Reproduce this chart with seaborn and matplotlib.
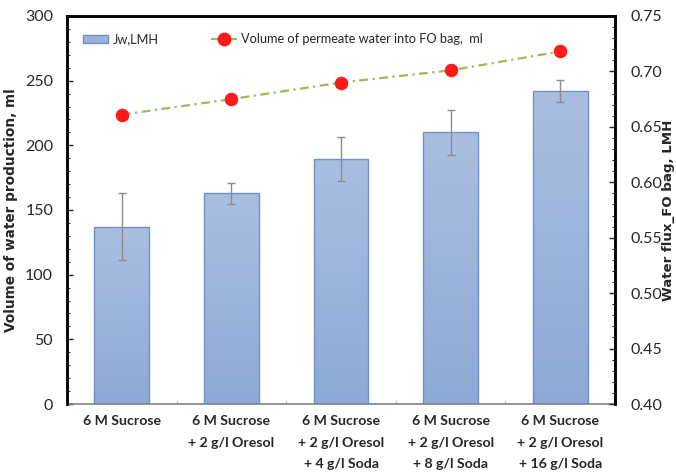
import numpy as np
import pandas as pd
import matplotlib
matplotlib.use("Agg")
import matplotlib.pyplot as plt
from matplotlib.colors import LinearSegmentedColormap
from matplotlib.ticker import MultipleLocator, FormatStrFormatter
from matplotlib.lines import Line2D
from matplotlib.patches import Patch
import seaborn as sns

# Data
categories = ["6 M Sucrose",
              "6 M Sucrose\n+ 2 g/l Oresol",
              "6 M Sucrose\n+ 2 g/l Oresol\n+ 4 g/l Soda",
              "6 M Sucrose\n+ 2 g/l Oresol\n+ 8 g/l Soda",
              "6 M Sucrose\n+ 2 g/l Oresol\n+ 16 g/l Soda"]
volume_ml = [137, 163, 189.5, 210, 242]
volume_err = [26, 8, 17, 17.5, 8.5]
flux_lmh = [0.661, 0.675, 0.690, 0.701, 0.718]

df = pd.DataFrame({"cat": categories, "vol": volume_ml, "err": volume_err, "flux": flux_lmh})

sns.set_theme(style="white")
plt.rcParams["font.family"] = ["DejaVu Sans"]
TICK_FONT = ["Lato", "DejaVu Sans"]
LINE_STYLE = (0, (4, 2, 1, 2))

fig = plt.figure(figsize=(6.76, 4.76), dpi=100)
ax = fig.add_axes([67 / 676, 1 - 404 / 476, (615 - 67) / 676, (404 - 16) / 476])

sns.barplot(data=df, x="cat", y="vol", ax=ax, width=0.5, color="#9db2da",
            edgecolor="#6f93c8", linewidth=1.0, errorbar=None, zorder=2)

# vertical gradient fill on each bar
cmap = LinearSegmentedColormap.from_list("barfill", ["#8ea9d6", "#aabee0"])
grad = np.linspace(0, 1, 256).reshape(-1, 1)
for p in ax.patches:
    x0, y0 = p.get_x(), p.get_y()
    w, h = p.get_width(), p.get_height()
    im = ax.imshow(grad, cmap=cmap, origin="lower", aspect="auto",
                   extent=[x0, x0 + w, y0, y0 + h], zorder=2.1)
    im.set_clip_path(p)
    p.set_facecolor("none")
    p.set_zorder(2.2)

ax.errorbar(np.arange(len(categories)), df["vol"], yerr=df["err"], fmt="none",
            ecolor="#8c8c8c", elinewidth=1.0, capsize=3, capthick=1.0, zorder=3)

ax.set_xlim(-0.5, len(categories) - 0.5)
ax.set_ylim(0, 300)
ax.yaxis.set_major_locator(MultipleLocator(50))
ax.yaxis.set_minor_locator(MultipleLocator(10))
ax.set_xlabel("")
ax.set_ylabel("Volume of water production, ml", fontsize=9.8, fontweight="bold")
ax.yaxis.set_label_coords(-0.089, 0.5)
ax.tick_params(axis="y", which="major", direction="in", length=4, width=1, labelsize=11.5, left=True, pad=10)
ax.tick_params(axis="y", which="minor", direction="in", length=2.5, width=0.8, left=True)
ax.set_xticks(np.arange(len(categories)))
ax.set_xticklabels(categories, fontsize=10.2, fontweight="bold", linespacing=1.95)
ax.tick_params(axis="x", which="major", length=0, pad=8)
ax.set_xticks(np.arange(len(categories) - 1) + 0.5, minor=True)
ax.tick_params(axis="x", which="minor", direction="in", length=3, color="#c8c8c8", bottom=True)
for lab in ax.get_yticklabels() + ax.get_xticklabels():
    lab.set_family(TICK_FONT)

for s in ["left", "top", "right"]:
    ax.spines[s].set_color("black")
    ax.spines[s].set_linewidth(1.8)
ax.spines["bottom"].set_color("#808080")
ax.spines["bottom"].set_linewidth(1.2)

ax2 = ax.twinx()
sns.lineplot(x=np.arange(len(categories)), y=flux_lmh, ax=ax2, color="#9bbb59",
             linestyle=LINE_STYLE, linewidth=1.6, marker="o",
             markersize=9, markerfacecolor="#ff1a1a", markeredgecolor="#ff1a1a", zorder=4)
ax2.set_ylim(0.40, 0.75)
ax2.yaxis.set_major_locator(MultipleLocator(0.05))
ax2.yaxis.set_minor_locator(MultipleLocator(0.01))
ax2.yaxis.set_major_formatter(FormatStrFormatter("%.2f"))
ax2.tick_params(axis="y", which="major", direction="in", length=4, width=1, labelsize=11.5, right=True, pad=11)
ax2.tick_params(axis="y", which="minor", direction="in", length=2.5, width=0.8, right=True)
for lab in ax2.get_yticklabels():
    lab.set_family(TICK_FONT)
ax2.set_ylabel("Water flux_FO bag, LMH", fontsize=9.6, fontweight="bold", rotation=90)
ax2.yaxis.set_label_coords(1.086, 0.5)
for s in ["left", "top", "right"]:
    ax2.spines[s].set_color("black")
    ax2.spines[s].set_linewidth(1.8)
ax2.spines["bottom"].set_visible(False)

handles = [Patch(facecolor="#9db2da", edgecolor="#6f93c8", linewidth=1.0),
           Line2D([0], [0], color="#9bbb59", linestyle=LINE_STYLE, linewidth=1.6,
                  marker="o", markersize=9, markerfacecolor="#ff1a1a", markeredgecolor="#ff1a1a")]
leg = ax2.legend(handles, ["Jw,LMH", "Volume of permeate water into FO bag,  ml"],
                 loc="upper left", ncol=2, frameon=False, bbox_to_anchor=(0.029, 0.955),
                 borderaxespad=0, borderpad=0, columnspacing=4.1, handlelength=2.0,
                 handletextpad=0.35, prop={"family": TICK_FONT, "size": 9.2})

fig.savefig("out.png", dpi=100)
